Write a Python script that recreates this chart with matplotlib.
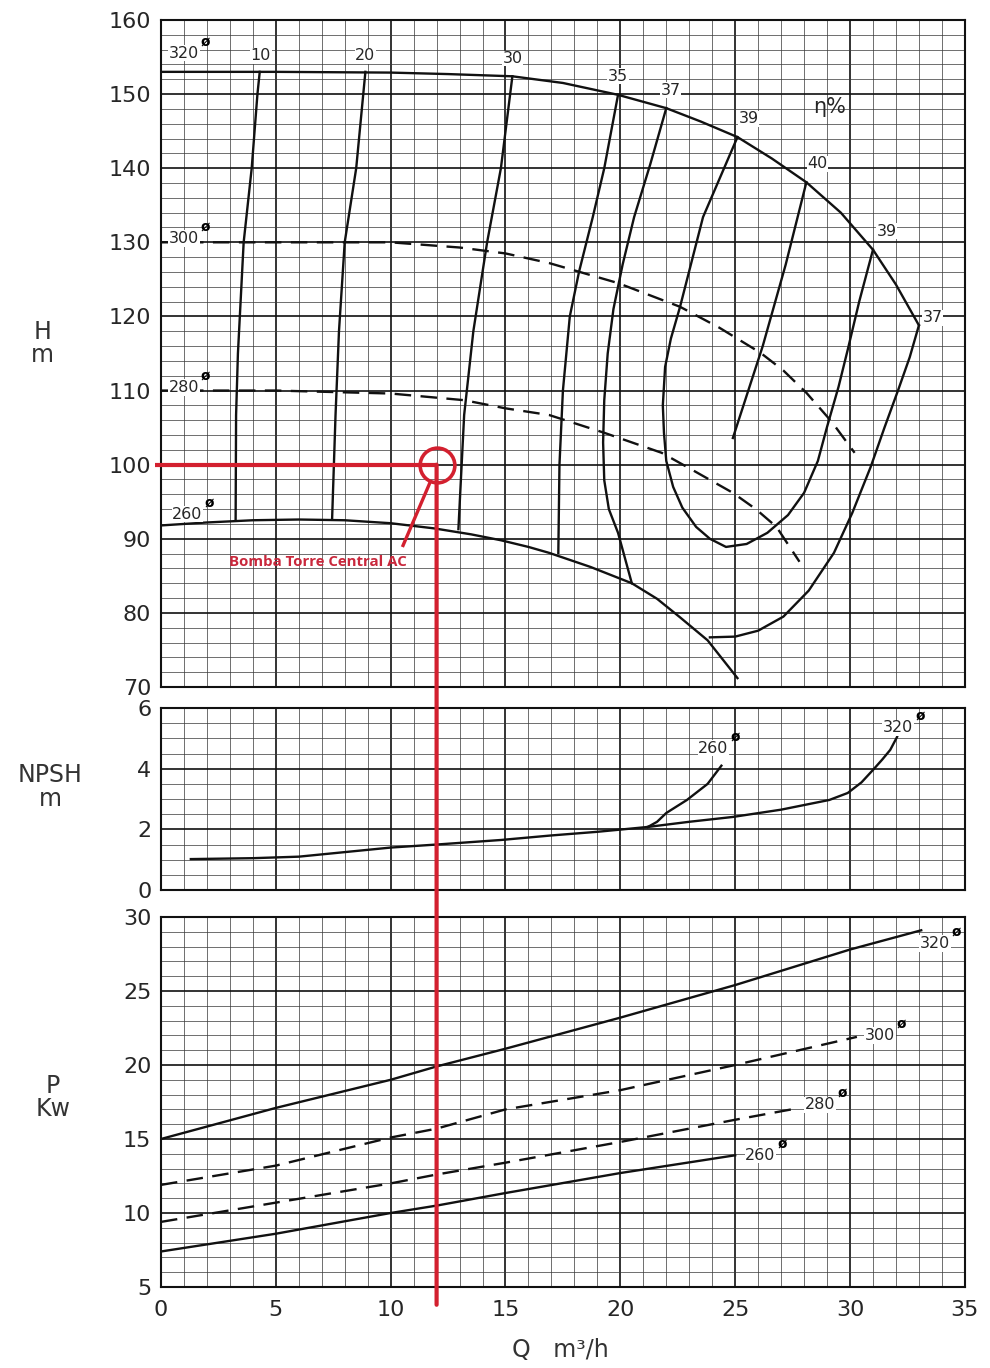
import matplotlib
matplotlib.use("Agg")
import matplotlib.pyplot as plt
from matplotlib.patches import ConnectionPatch
from matplotlib.ticker import MultipleLocator

# ---------------- data ----------------
# H-Q curves per impeller diameter
q320 = [0, 5, 10, 12.5, 15.3, 17.5, 19.9, 22.0, 23.5, 25.1, 26.6, 28.1, 29.6, 31.0, 32.0, 33.0]
h320 = [153, 153, 152.9, 152.7, 152.4, 151.5, 149.9, 148.1, 146.3, 144.2, 141.3, 138.1, 134.0, 129.0, 124.3, 118.8]
q300 = [0, 5, 10, 13, 15, 16.9, 19.9, 22.6, 24.3, 26.1, 27.1, 28.1, 29.2, 30.2]
h300 = [130, 130, 130, 129.3, 128.5, 127.2, 124.5, 121.3, 118.5, 115.1, 112.7, 109.7, 105.8, 101.6]
q280 = [0, 5, 10, 13.2, 15, 16.9, 19.3, 21.8, 23.3, 24.9, 25.9, 26.8, 27.8]
h280 = [110, 110, 109.6, 108.7, 107.6, 106.7, 104.3, 101.6, 99.0, 96.2, 94.0, 91.6, 86.9]
q260 = [0, 2, 4, 6, 8, 10, 11.9, 13.5, 14.8, 16.0, 16.9, 18.7, 20.5, 21.6, 22.6, 23.8, 25.1]
h260 = [91.8, 92.2, 92.5, 92.6, 92.5, 92.1, 91.4, 90.6, 89.8, 88.9, 88.1, 86.2, 84.0, 81.9, 79.4, 76.3, 71.2]

# iso-efficiency curves
e10_q = [4.3, 4.2, 3.95, 3.6, 3.35, 3.27, 3.25]
e10_h = [153, 150, 140, 130, 115, 106.7, 92.5]
e20_q = [8.9, 8.5, 8.0, 7.75, 7.6, 7.45]
e20_h = [153, 140, 130, 118, 106.7, 92.6]
e30_q = [15.3, 14.8, 14.2, 13.6, 13.2, 12.95]
e30_h = [152.4, 140, 130, 118, 106.7, 91.3]
e35_q = [19.9, 19.3, 18.8, 18.2, 17.8, 17.5, 17.35, 17.3]
e35_h = [149.9, 140, 133.4, 126, 120, 110, 100, 88.1]
e37a_q = [22.0, 21.3, 20.6, 20.1, 19.7, 19.45, 19.3, 19.25, 19.3, 19.5, 19.9, 20.5]
e37a_h = [148.1, 140.5, 133.4, 127.0, 121.0, 115.0, 108.7, 103.0, 97.9, 94.0, 90.8, 84.0]
e37b_q = [23.9, 25.0, 26.0, 27.1, 28.2, 29.3, 30.1, 30.9, 31.5, 32.1, 32.6, 33.0]
e37b_h = [76.7, 76.8, 77.6, 79.5, 83.0, 88.1, 93.5, 99.7, 105.0, 110.1, 114.5, 118.8]
e39_q = [25.1, 23.6, 22.6, 22.2, 21.95, 21.85, 21.9, 22.0, 22.3, 22.7, 23.3, 23.9, 24.6,
         25.5, 26.4, 27.3, 28.0, 28.6, 29.0, 29.5, 29.9, 30.4, 31.0]
e39_h = [144.2, 133.4, 121.3, 117.0, 113.2, 108.0, 104.3, 100.5, 97.0, 94.2, 91.6, 90.0, 88.9,
         89.3, 90.8, 93.2, 96.2, 100.5, 105.1, 110.5, 115.5, 122.0, 129.0]
e40_q = [28.1, 27.2, 26.2, 24.9]
e40_h = [138.1, 127.0, 116.0, 103.6]

# NPSH
npsh_q = [1.3, 4, 6, 8, 10, 12, 14.8, 17, 19, 21.2]
npsh_v = [1.02, 1.05, 1.1, 1.25, 1.4, 1.5, 1.65, 1.8, 1.92, 2.08]
npsh260_q = [21.2, 21.6, 22.0, 22.9, 23.8, 24.4]
npsh260_v = [2.08, 2.25, 2.54, 2.97, 3.5, 4.1]
npsh320_q = [21.2, 23, 24.9, 27, 29.1, 29.9, 30.5, 31.0, 31.4, 31.75, 32.05]
npsh320_v = [2.08, 2.25, 2.41, 2.65, 2.97, 3.2, 3.55, 3.96, 4.3, 4.62, 5.05]

# Power
p320_q = [0, 5, 10, 12, 15, 20, 25, 30, 33.1]
p320_v = [15.0, 17.1, 19.0, 19.9, 21.1, 23.2, 25.4, 27.8, 29.1]
p300_q = [0, 5, 10, 12, 15, 20, 25, 30.3]
p300_v = [11.9, 13.2, 15.1, 15.7, 17.0, 18.3, 20.0, 21.9]
p280_q = [0, 5, 10, 12, 15, 20, 25, 27.8]
p280_v = [9.4, 10.7, 12.0, 12.6, 13.4, 14.8, 16.3, 17.1]
p260_q = [0, 5, 10, 12, 15, 20, 25]
p260_v = [7.4, 8.6, 10.0, 10.5, 11.35, 12.7, 13.9]

# duty point
duty_q = 12
duty_h = 100

x_ticks = [0, 5, 10, 15, 20, 25, 30, 35]
h_ticks = [70, 80, 90, 100, 110, 120, 130, 140, 150, 160]
n_ticks = [0, 2, 4, 6]
p_ticks = [5, 10, 15, 20, 25, 30]

# ---------------- figure ----------------
plt.rcParams['font.family'] = ['DejaVu Sans']
fig = plt.figure(figsize=(9.9, 13.68), dpi=100)
L, W = 0.1626, 0.812
ax1 = fig.add_axes([L, 0.4978, W, 0.4876])
ax2 = fig.add_axes([L, 0.3494, W, 0.1330])
ax3 = fig.add_axes([L, 0.0592, W, 0.2705])

TXT = '#262626'
RED = '#d3202f'

def style(ax, yt, ymaj, ymin, showx):
    ax.set_xlim(0, 35)
    ax.set_ylim(yt[0], yt[-1])
    ax.xaxis.set_major_locator(MultipleLocator(5))
    ax.xaxis.set_minor_locator(MultipleLocator(1))
    ax.yaxis.set_major_locator(MultipleLocator(ymaj))
    ax.yaxis.set_minor_locator(MultipleLocator(ymin))
    ax.set_yticks(yt)
    ax.grid(which='major', color='#111111', lw=1.2)
    ax.grid(which='minor', color='#3a3a3a', lw=0.6, alpha=0.85)
    ax.tick_params(which='both', length=0, labelsize=16, labelcolor=TXT, pad=7)
    for s in ax.spines.values():
        s.set_linewidth(1.5)
        s.set_color('#111111')
    if showx:
        ax.set_xticks(x_ticks)
        ax.tick_params(axis='x', pad=9)
    else:
        ax.tick_params(axis='x', labelbottom=False)
    ax.set_axisbelow(True)

style(ax1, h_ticks, 10, 2, False)
style(ax2, n_ticks, 2, 0.5, False)
style(ax3, p_ticks, 5, 1, True)

LW = 1.7
DASH = (0, (7, 4))
K = '#111111'

# H-Q
ax1.plot(q320, h320, color=K, lw=LW)
ax1.plot(q300, h300, color=K, lw=LW, ls=DASH)
ax1.plot(q280, h280, color=K, lw=LW, ls=DASH)
ax1.plot(q260, h260, color=K, lw=LW)
for qq, hh in [(e10_q, e10_h), (e20_q, e20_h), (e30_q, e30_h), (e35_q, e35_h),
               (e37a_q, e37a_h), (e37b_q, e37b_h), (e39_q, e39_h), (e40_q, e40_h)]:
    ax1.plot(qq, hh, color=K, lw=LW)

def dlabel(ax, x, y, s, size=11.5):
    ax.text(x, y, s, fontsize=size, color=TXT, ha='center', va='center',
            bbox=dict(fc='white', ec='none', pad=0.5), zorder=5)
    ax.annotate('ø', xy=(x, y), xytext=(size * 1.35, size * 0.75), textcoords='offset points',
                fontsize=size * 0.85, fontweight='bold', color='#000000',
                ha='center', va='center', zorder=6)

def elabel(ax, x, y, s, size=11.5):
    ax.text(x, y, s, fontsize=size, color=TXT, ha='center', va='center',
            bbox=dict(fc='white', ec='none', pad=0.3), zorder=5)

dlabel(ax1, 1.0, 155.5, '320')
dlabel(ax1, 1.0, 130.5, '300')
dlabel(ax1, 1.0, 110.4, '280')
dlabel(ax1, 1.15, 93.3, '260')
for x, y, s in [(4.35, 155.2, '10'), (8.9, 155.2, '20'), (15.3, 154.8, '30'),
                (19.9, 152.4, '35'), (22.2, 150.5, '37'), (25.6, 146.7, '39'),
                (28.6, 140.6, '40'), (31.6, 131.5, '39'), (33.6, 119.8, '37')]:
    elabel(ax1, x, y, s)
ax1.text(29.1, 148.3, 'η%', fontsize=15, color=TXT, ha='center', va='center')

# NPSH
ax2.plot(npsh_q, npsh_v, color=K, lw=LW)
ax2.plot(npsh260_q, npsh260_v, color=K, lw=LW)
ax2.plot(npsh320_q, npsh320_v, color=K, lw=LW)
dlabel(ax2, 24.05, 4.68, '260')
dlabel(ax2, 32.1, 5.35, '320')

# Power
ax3.plot(p320_q, p320_v, color=K, lw=LW)
ax3.plot(p300_q, p300_v, color=K, lw=LW, ls=DASH)
ax3.plot(p280_q, p280_v, color=K, lw=LW, ls=DASH)
ax3.plot(p260_q, p260_v, color=K, lw=LW)
dlabel(ax3, 33.7, 28.2, '320')
dlabel(ax3, 31.3, 22.0, '300')
dlabel(ax3, 28.7, 17.3, '280')
dlabel(ax3, 26.1, 13.9, '260')

# duty point annotation
ax1.plot([-0.26, duty_q], [duty_h, duty_h], color=RED, lw=3, clip_on=False, zorder=8,
         solid_capstyle='butt')
ax1.plot([duty_q], [duty_h], marker='o', ms=25, mfc='none', mec=RED, mew=2.6, zorder=9)
ax1.plot([10.54, 11.7], [89.1, 97.5], color=RED, lw=2.4, zorder=9)
ax1.text(6.84, 86.9, 'Bomba Torre Central AC', color='#c9283c', fontsize=10.8,
         fontweight='bold', ha='center', va='center', zorder=9,
         family=['Open Sans', 'DejaVu Sans'])
con = ConnectionPatch(xyA=(duty_q, duty_h), coordsA=ax1.transData,
                      xyB=(duty_q, 3.8), coordsB=ax3.transData,
                      color=RED, lw=3, zorder=10)
fig.add_artist(con)

# axis labels
fig.text(0.043, 0.749, 'H\nm', fontsize=17, color='#333333', ha='center', va='center',
         linespacing=0.95)
fig.text(0.0505, 0.4247, 'NPSH\nm', fontsize=17, color='#333333', ha='center', va='center',
         linespacing=0.95)
fig.text(0.0535, 0.198, 'P\nKw', fontsize=17, color='#333333', ha='center', va='center',
         linespacing=0.95)
fig.text(0.566, 0.013, 'Q   m³/h', fontsize=17, color='#333333', ha='center', va='center')

fig.savefig('out.png', dpi=100)
